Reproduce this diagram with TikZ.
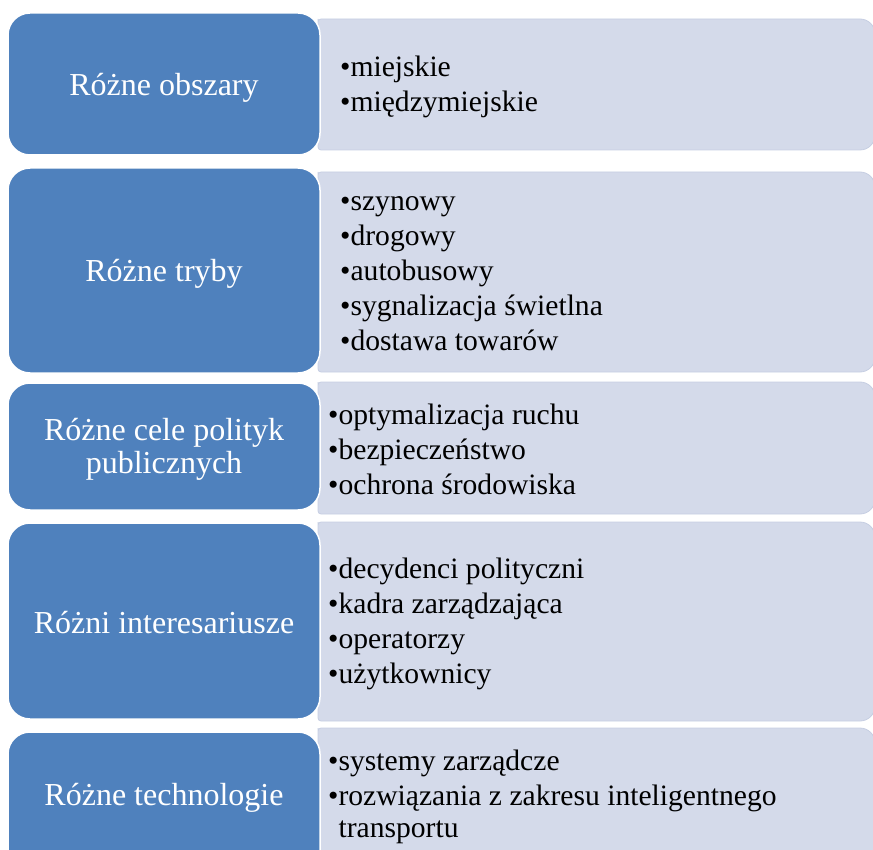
\documentclass[tikz,border=0pt]{standalone}
\usepackage{fontspec}
\setmainfont{Liberation Serif}
\definecolor{bluebox}{HTML}{4F81BD}
\definecolor{lightbox}{HTML}{D4DAEA}
\definecolor{lightedge}{HTML}{C6CEE2}
\begin{document}
\begin{tikzpicture}[x=1pt,y=-1pt,
  catbox/.style={draw=white,line width=1.5pt,fill=bluebox,rounded corners=22pt},
  cattext/.style={text=white,align=center,inner sep=0pt,
    font=\fontfamily{\rmdefault}\fontsize{32}{33}\selectfont},
  listbox/.style={draw=lightedge,line width=0.8pt,fill=lightbox},
  listtext/.style={anchor=west,align=left,inner sep=0pt,text=black,
    font=\fontfamily{\rmdefault}\fontsize{29.6}{35}\selectfont}]
\useasboundingbox (0,0) rectangle (873,850);
\clip (0,0) rectangle (873,850);
% right list boxes
\foreach \ya/\yb in {19/150,172/372,382/514,522/721,728/880}{
  \draw[listbox] (318,\ya+3) [rounded corners=3pt] -- (318,\ya) -- (600,\ya)
    [rounded corners=15pt] -- (875,\ya) -- (875,\yb) -- (600,\yb)
    [rounded corners=3pt] -- (318,\yb) -- cycle;
}
% blue category boxes
\path[catbox] (8,13) rectangle (320,155);
\path[catbox] (8,168) rectangle (320,373);
\path[catbox] (8,383) rectangle (320,510);
\path[catbox] (8,523) rectangle (320,719);
\path[catbox] (8,732) rectangle (320,890);
\node[cattext] (c1) at (164,88) {Różne obszary};
\node[cattext] (c2) at (164,274) {Różne tryby};
\node[cattext] (c3) at (164,449) {Różne cele polityk\\publicznych};
\node[cattext] (c4) at (164,623) {Różni interesariusze};
\node[cattext] (c5) at (164,798) {Różne technologie};
% list texts
\node[listtext] (l1) at (340,87) {•miejskie\\•międzymiejskie};
\node[listtext] (l2) at (340,274) {•szynowy\\•drogowy\\•autobusowy\\•sygnalizacja świetlna\\•dostawa towarów};
\node[listtext] (l3) at (328,449) {•optymalizacja ruchu\\•bezpieczeństwo\\•ochrona środowiska};
\node[listtext] (l4) at (328,624) {•decydenci polityczni\\•kadra zarządzająca\\•operatorzy\\•użytkownicy};
\node[listtext,font=\fontfamily{\rmdefault}\fontsize{29.6}{32}\selectfont] (l5) at (328,797) {•systemy zarządcze\\[3pt]•rozwiązania z zakresu inteligentnego\\\phantom{•}transportu};
\end{tikzpicture}
\end{document}
